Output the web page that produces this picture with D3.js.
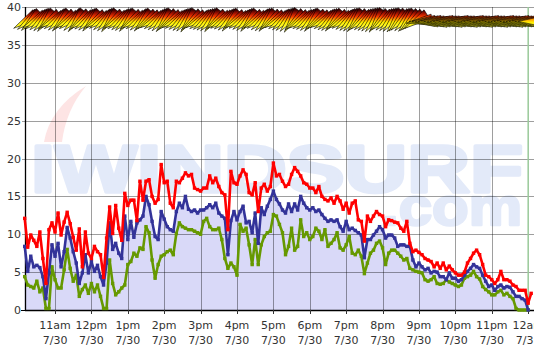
<!DOCTYPE html>
<html>
<head>
<meta charset="utf-8">
<script src="https://cdn.jsdelivr.net/npm/d3@7"></script>
<style>
body{margin:0;background:#fff;}
svg{display:block;}
text{font-family:"DejaVu Sans",Verdana,sans-serif;}
</style>
</head>
<body>
<div id="chart"></div>
<script>
// readings every 5 minutes starting 10:10am 7/30
var startTime = new Date(2008, 6, 30, 10, 10);
var stepMinutes = 5;

var gustValues = [12.1,8.3,9.9,9.2,8.4,10.3,6.8,3.5,10.6,11.5,10.3,12.8,
  9.9,11.6,12.9,11.4,9.6,7.9,10.7,5.7,10.3,7.5,6.8,8.4,
  7.7,7.3,4.3,9.5,13.6,10.1,13.8,10.8,9.2,15.4,13.8,14.5,
  14.5,11.8,17,14.5,17,17.2,15,14.1,14.6,19.2,16.8,17,
  14.1,13.5,17,16.8,17.4,18.1,17.7,17.9,16.1,15.9,15.7,16.1,
  16.1,17.7,16.8,17.4,16.3,15.5,15.2,10.6,18.3,16.8,16.6,17.7,
  18.5,17.9,15.5,15.2,16.8,13.0,16.1,16.6,15.7,16.3,19.4,17.7,
  17.9,17.0,16.3,16.6,17.9,18.8,18.3,17.7,16.8,16.6,16.1,16.1,
  15.5,16.3,15.0,14.6,14.4,14.8,14.1,15.0,14.4,13.3,14.1,12.8,
  14.1,14.4,11.9,11.7,9.1,12.4,11.7,12.4,13.0,12.6,12.4,11.0,
  11.9,11.8,11.6,11.5,10.8,10.4,11.7,8.8,7.7,7.9,7.6,7.3,
  6.8,6.6,6.4,5.7,6.2,5.5,6.2,5.3,5.8,5.3,4.9,4.6,
  4.6,5.0,6.2,6.8,7.5,7.9,7.3,6.0,4.6,4.4,4.0,3.5,
  4.0,5.1,4.0,4.0,3.8,3.3,3.1,2.6,2.6,2.6,0.9,2.2];

var avgValues = [8.4,5.1,7.1,5.7,5.9,5.6,4.4,1.5,4.9,8.6,7.1,8.8,
  5.7,7.7,10.9,9.5,7.7,6.2,3.5,4.9,7.3,4.9,6.4,5.1,
  5.9,4.4,3.3,6.2,11.5,8.0,8.8,7.5,6.8,12.4,9.3,11.7,
  9.6,11.5,11.9,12.4,15,13.9,11.7,9.7,9.3,13.0,12.0,11.0,
  10.6,10.4,13.0,14.1,13.5,15.0,13.3,13.0,13.2,12.8,13.2,13.2,
  13.5,13.9,13.5,14.1,12.8,12.4,12.1,7.3,11.8,13.0,11.9,13.0,
  13.7,11.5,11.7,10.2,12.8,8.8,13.5,12.6,13.7,14.6,15.7,14.6,
  14.0,13.2,12.8,14.0,13.0,14.0,13.2,15.0,14.1,13.5,13.2,13.5,
  13.0,13.2,12.6,12.1,11.7,11.9,11.7,11.9,11.0,10.4,11.7,10.6,
  10.8,10.5,10.2,9.9,6.9,9.3,9.3,9.9,10.4,11.0,10.6,9.5,
  9.9,9.9,9.5,8.4,8.6,8.6,8.4,8.4,6.6,5.7,6.2,5.7,
  5.3,5.5,4.9,5.1,5.0,4.4,4.4,4.0,4.9,4.2,4.2,3.8,
  4.0,4.6,5.1,5.5,6.0,5.7,5.5,4.6,3.8,3.1,3.3,2.6,
  3.1,3.3,2.9,3.1,3.0,2.4,1.8,1.8,1.5,1.3,0];

var lullValues = [4.4,3.3,3.1,2.9,3.8,2.4,2.9,0.2,0.2,5.7,4.0,2.9,
  2.9,5.3,8.0,5.5,3.8,4.6,1.8,2.7,3.3,2.2,3.5,2.4,
  3.3,1.8,0.2,0.2,6.6,3.5,2.0,2.4,2.9,3.3,6.0,6.4,
  7.5,7.1,8.2,8.0,11.0,10.2,6.6,4.2,6.0,7.1,7.3,7.7,
  7.9,7.3,10.1,11.5,11.0,10.8,10.6,10.6,10.4,10.2,10.0,11.7,
  12.1,11.0,10.6,10.6,10.8,9.3,6.8,5.5,6.2,5.7,4.6,11.3,
  10.4,10.8,8.6,6.0,9.3,6.0,8.6,9.7,10.2,10.4,12.6,12.4,
  11.3,10.2,7.3,8.4,10.8,7.9,8.4,11.9,9.7,10.2,9.3,9.7,
  10.8,10.4,9.3,10.6,8.4,8.8,9.3,10.2,8.2,7.9,8.6,9.7,
  7.5,7.3,7.9,7.1,4.8,6.2,7.5,7.9,8.8,9.1,8.2,6.0,
  7.5,7.9,7.9,7.5,7.1,6.6,6.8,5.5,5.3,5.1,5.0,4.9,
  4.0,3.8,4.0,4.4,3.5,3.4,3.5,4.0,3.7,3.5,3.3,3.1,
  3.3,4.2,4.4,4.6,5.1,4.4,4.1,3.1,2.7,2.4,2.0,2.0,
  2.4,2.6,2.0,2.2,1.8,1.5,0.2,0,0,0,0];

// direction the arrow points, degrees (270 = left, 180 = down)
var dirValues = [238,232,226,240,236,230,224,220,234,242,236,228,
  222,232,240,236,226,218,230,238,234,228,222,236,
  242,238,230,224,218,232,240,236,230,226,220,234,
  240,236,228,222,232,238,242,236,230,224,218,228,
  236,242,238,232,226,222,216,230,238,242,236,232,
  228,224,218,232,240,238,234,228,222,236,242,238,
  232,226,220,234,240,238,230,224,220,232,238,242,
  236,230,226,220,214,228,236,240,236,232,226,220,
  232,238,242,236,230,226,222,234,240,238,232,226,
  222,218,228,234,230,226,222,218,214,226,232,228,
  224,220,216,222,228,224,220,226,232,238,262,268,
  270,268,270,272,270,268,270,270,272,270,268,270,
  270,272,270,268,270,270,272,270,268,270,270,272,
  270,268,270,270,272,270,268,270,270,272,270,270];

var hourLabels = ["11am","12pm","1pm","2pm","3pm","4pm","5pm","6pm","7pm","8pm","9pm","10pm","11pm","12am"];
var dateLabels = ["7/30","7/30","7/30","7/30","7/30","7/30","7/30","7/30","7/30","7/30","7/30","7/30","7/30","7/31"];
var yTicks = [0,5,10,15,20,25,30,35,40];
var dirLevel = 38.1;

function init(){

var w = 546;
var h = 348;

var svg = d3.select("#chart")
    .append("svg")
    .attr("width", w)
    .attr("height", h);

var defs = svg.append("defs");
defs.append("clipPath").attr("id", "cut")
    .append("rect").attr("x", 0).attr("y", 0).attr("width", 534).attr("height", h);

var grad = defs.append("linearGradient").attr("id", "dirfill")
    .attr("gradientUnits", "userSpaceOnUse")
    .attr("x1", 0).attr("y1", 10).attr("x2", 0).attr("y2", 28);
[["0%","#3a0000"],["18%","#a01000"],["36%","#f03800"],["52%","#ff9a00"],["68%","#ffee00"],["100%","#ffff40"]]
    .forEach(function(s){ grad.append("stop").attr("offset", s[0]).attr("stop-color", s[1]); });

var g = svg.append("g").attr("clip-path", "url(#cut)");

var x = d3.scaleTime()
    .domain([new Date(2008, 6, 30, 10, 10, 30), new Date(2008, 6, 31, 0, 8)])
    .range([25, 533]);
var y = d3.scaleLinear().domain([0, 40]).range([310, 7]);

function timeAt(i){ return new Date(startTime.getTime() + i * stepMinutes * 60000); }

// watermark
g.append("path")
    .attr("d", "M44,142 Q50,108 86,86 Q66,110 62,142 Z")
    .attr("fill", "#fde4e4");
g.append("text")
    .attr("x", 31).attr("y", 192)
    .attr("textLength", 492).attr("lengthAdjust", "spacingAndGlyphs")
    .style("font-family", "'Liberation Sans',Arial,sans-serif")
    .style("font-weight", "bold").style("font-size", "66px")
    .attr("fill", "#e3eaf9")
    .attr("stroke", "#e3eaf9").attr("stroke-width", 3.5).attr("stroke-linejoin", "round")
    .text("IWINDSURF");
g.append("text")
    .attr("x", 382).attr("y", 225)
    .attr("textLength", 140).attr("lengthAdjust", "spacingAndGlyphs")
    .style("font-family", "'Liberation Sans',Arial,sans-serif")
    .style("font-weight", "bold").style("font-size", "53px")
    .attr("fill", "#e3eaf9")
    .attr("stroke", "#e3eaf9").attr("stroke-width", 2.5).attr("stroke-linejoin", "round")
    .text(".com");

// area under average
var area = d3.area()
    .x(function(d, i){ return x(timeAt(i)); })
    .y0(y(0))
    .y1(function(d){ return y(d); });
g.append("path")
    .datum(avgValues)
    .attr("d", area)
    .attr("fill", "#d9d9f8");

// grid
var hours = x.ticks(d3.timeHour.every(1));
g.selectAll(".vgrid")
    .data(hours)
    .enter()
    .append("line")
    .attr("x1", function(d){ return Math.round(x(d)) + 0.5; })
    .attr("x2", function(d){ return Math.round(x(d)) + 0.5; })
    .attr("y1", y(40))
    .attr("y2", y(0) + 3)
    .attr("stroke", "#000")
    .attr("stroke-opacity", 0.38);

g.selectAll(".hgrid")
    .data(yTicks.slice(1))
    .enter()
    .append("line")
    .attr("x1", 22)
    .attr("x2", 534)
    .attr("y1", function(d){ return Math.round(y(d)) + 0.5; })
    .attr("y2", function(d){ return Math.round(y(d)) + 0.5; })
    .attr("stroke", "#000")
    .attr("stroke-opacity", 0.38);

// midnight marker
g.append("line")
    .attr("x1", x(new Date(2008, 6, 31, 0, 0)))
    .attr("x2", x(new Date(2008, 6, 31, 0, 0)))
    .attr("y1", y(40)).attr("y2", y(0))
    .attr("stroke", "#9fd09f").attr("stroke-width", 1.5);

// axes
g.append("line").attr("x1", 25.5).attr("x2", 25.5).attr("y1", y(40)).attr("y2", 311)
    .attr("stroke", "#000").attr("stroke-width", 1.3);
g.append("line").attr("x1", 25).attr("x2", 534).attr("y1", 310.5).attr("y2", 310.5)
    .attr("stroke", "#000").attr("stroke-width", 1.3);
g.append("line").attr("x1", 21).attr("x2", 25).attr("y1", 310.5).attr("y2", 310.5)
    .attr("stroke", "#000");
g.selectAll(".xtick")
    .data(hours)
    .enter()
    .append("line")
    .attr("x1", function(d){ return Math.round(x(d)) + 0.5; })
    .attr("x2", function(d){ return Math.round(x(d)) + 0.5; })
    .attr("y1", 310).attr("y2", 314)
    .attr("stroke", "#333");

g.selectAll(".ylab")
    .data(yTicks)
    .enter()
    .append("text")
    .attr("x", 21)
    .attr("y", function(d){ return y(d) + 4; })
    .attr("text-anchor", "end")
    .attr("fill", "#333")
    .style("font-size", "11px")
    .text(function(d){ return d; });

g.selectAll(".xlab1")
    .data(hours)
    .enter()
    .append("text")
    .attr("x", function(d){ return x(d); })
    .attr("y", 329)
    .attr("text-anchor", "middle")
    .attr("fill", "#333")
    .style("font-size", "11px")
    .text(function(d, i){ return hourLabels[i]; });

g.selectAll(".xlab2")
    .data(hours)
    .enter()
    .append("text")
    .attr("x", function(d){ return x(d); })
    .attr("y", 344)
    .attr("text-anchor", "middle")
    .attr("fill", "#333")
    .style("font-size", "11px")
    .text(function(d, i){ return dateLabels[i]; });

// speed lines
function drawSeries(vals, color){
    var line = d3.line()
        .x(function(d, i){ return x(timeAt(i)); })
        .y(function(d){ return y(d); });
    g.append("path")
        .datum(vals)
        .attr("d", line)
        .attr("fill", "none")
        .attr("stroke", color)
        .attr("stroke-width", 2.6)
        .attr("stroke-linejoin", "round");
    g.append("g").selectAll("rect")
        .data(vals)
        .enter()
        .append("rect")
        .attr("x", function(d, i){ return x(timeAt(i)) - 1.7; })
        .attr("y", function(d){ return y(d) - 1.7; })
        .attr("width", 3.4)
        .attr("height", 3.4)
        .attr("fill", color);
}
drawSeries(lullValues, "#669900");
drawSeries(avgValues, "#333399");
drawSeries(gustValues, "#ff0000");

// direction arrows
g.append("g").selectAll("path")
    .data(dirValues)
    .enter()
    .append("path")
    .attr("d", function(d, i){
        var cx = x(timeAt(i)), cy = y(dirLevel);
        var a = d * Math.PI / 180;
        var dx = Math.sin(a), dy = -Math.cos(a);
        var px = -dy, py = dx;
        var L = 13, W = 5.5;
        return "M" + (cx + dx * L) + "," + (cy + dy * L) +
            "L" + (cx - dx * L + px * W) + "," + (cy - dy * L + py * W) +
            "L" + (cx - dx * L - px * W) + "," + (cy - dy * L - py * W) + "Z";
    })
    .attr("fill", "url(#dirfill)")
    .attr("stroke", "#000")
    .attr("stroke-width", 0.6);
}

window.onload = init;
</script>
</body>
</html>
